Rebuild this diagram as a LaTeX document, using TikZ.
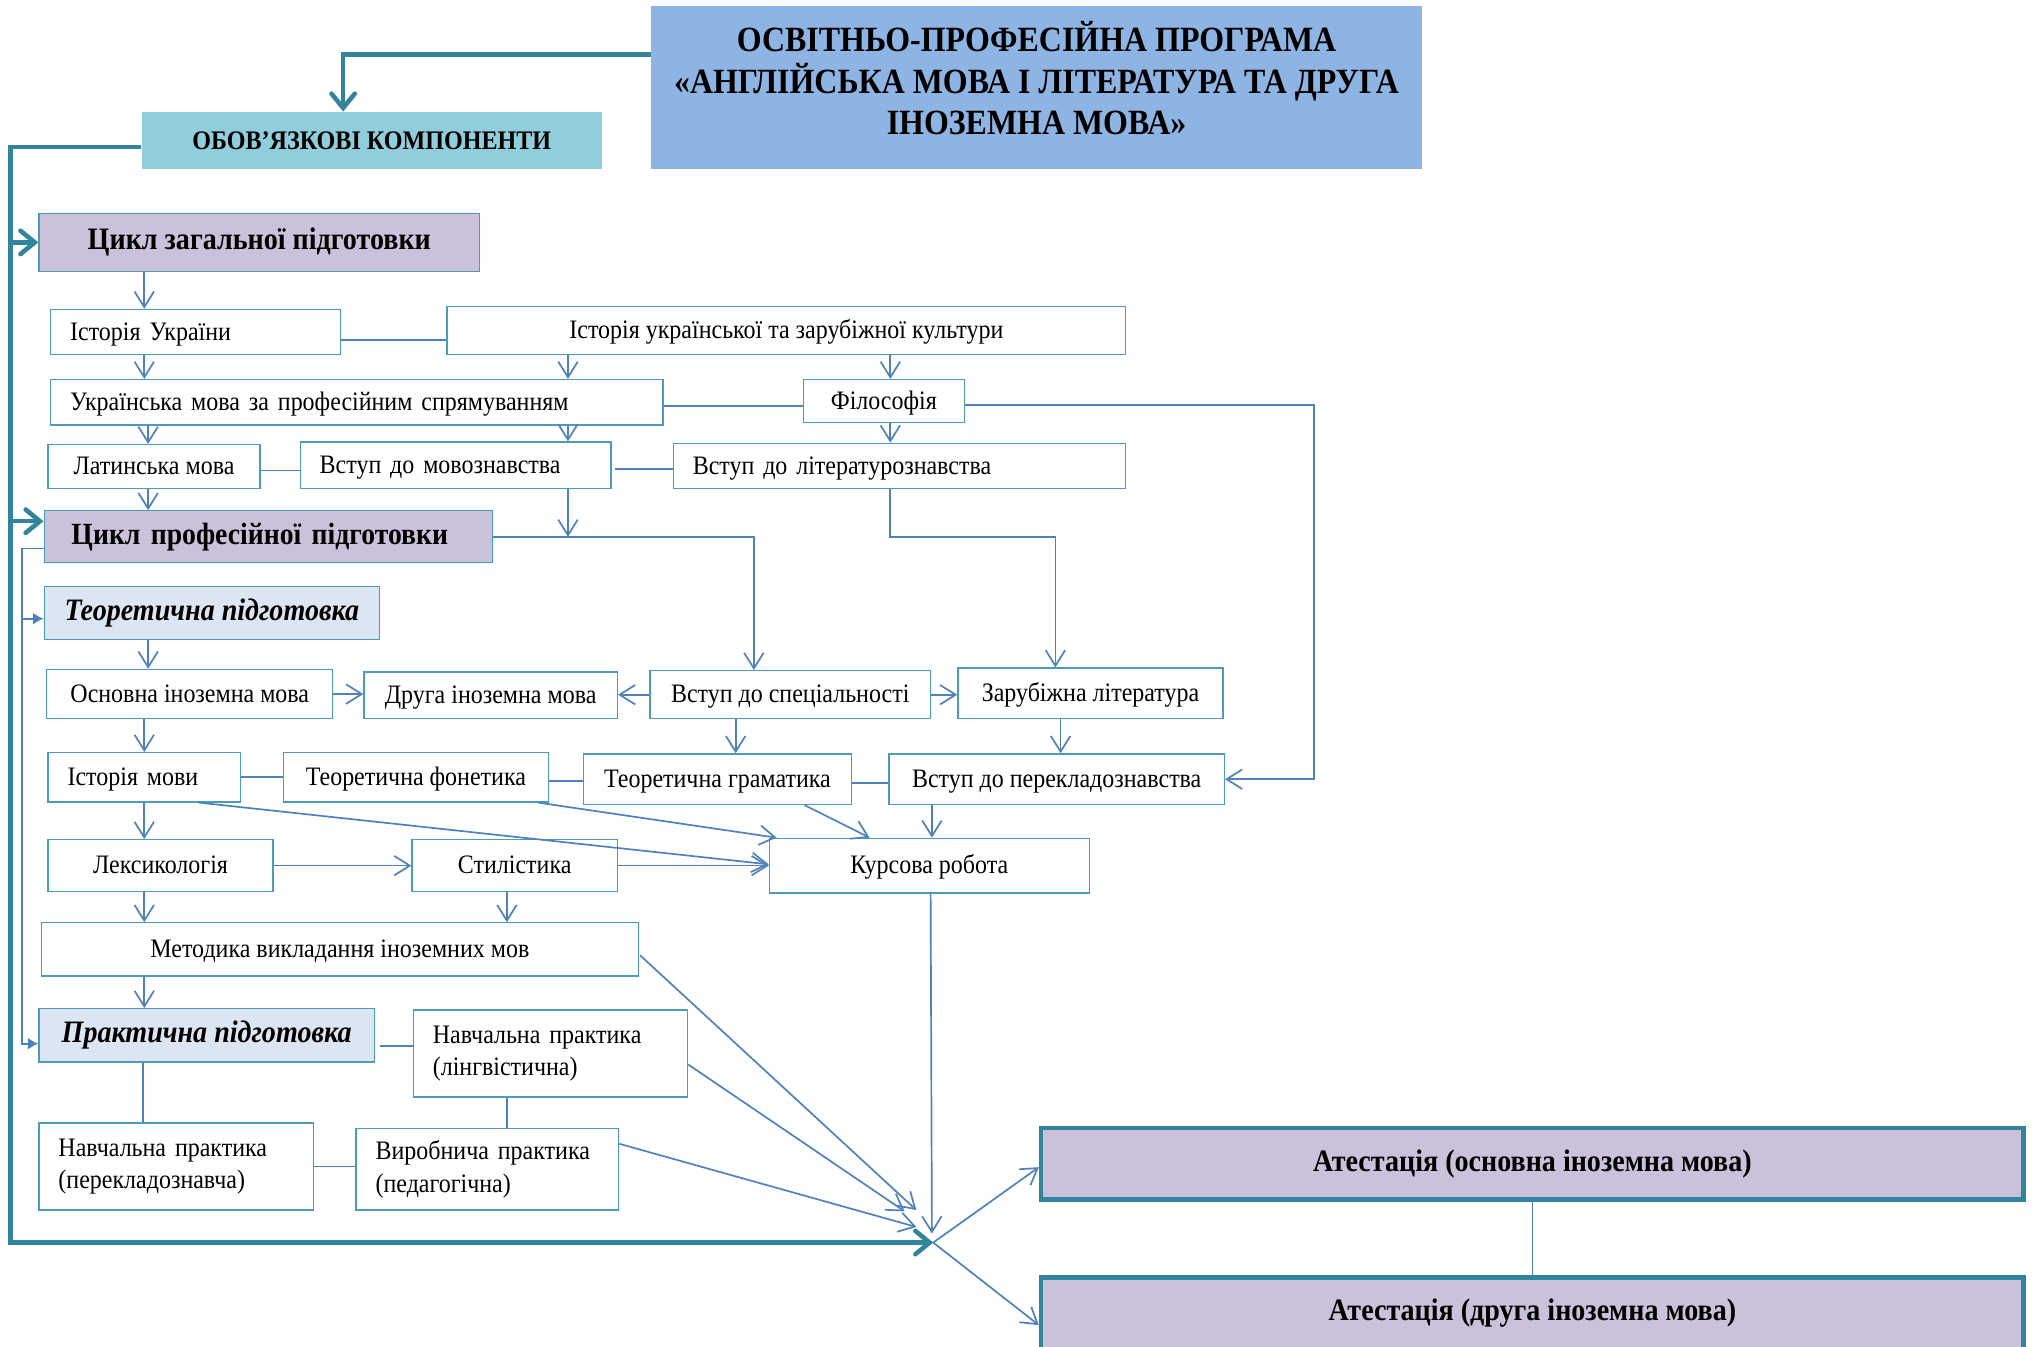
\documentclass[tikz,border=0pt]{standalone}
\usepackage{fontspec}
\setmainfont{Liberation Serif}[FakeStretch=0.9]
\usetikzlibrary{arrows.meta,positioning,calc}
\definecolor{lnc}{RGB}{79,129,189}
\definecolor{tealc}{RGB}{49,132,155}
\definecolor{boxc}{RGB}{75,155,185}
\definecolor{titlec}{RGB}{142,180,227}
\definecolor{obc}{RGB}{146,205,220}
\definecolor{lav}{RGB}{204,193,218}
\definecolor{lbl}{RGB}{220,230,242}
\tikzset{
  box/.style={draw=boxc, line width=1pt, rectangle, inner xsep=15pt, inner ysep=0pt, font=\fontsize{20.5}{25}\selectfont},
  one/.style={box, text height=15.5pt, text depth=3pt},
  lbox/.style={box, align=left},
  hdr/.style={box, fill=lav, font=\fontsize{24}{26}\selectfont\bfseries},
  sub/.style={box, fill=lbl, font=\fontsize{24}{26}\selectfont\bfseries\itshape},
  att/.style={box, fill=lav, draw=tealc, line width=3.5pt, font=\fontsize{24}{26}\selectfont\bfseries},
  ln/.style={draw=lnc, line width=1.3pt},
  arr/.style={ln, -{Straight Barb[length=12pt,width=15pt]}},
  farr/.style={ln, -{Latex[length=8pt,width=9pt]}},
  thk/.style={draw=tealc, line width=3.5pt},
  tarr/.style={thk, -{Straight Barb[length=11pt,width=18pt,line cap=round]}},
}
\begin{document}
\begin{tikzpicture}[x=1pt,y=-1pt]
\useasboundingbox (0,0) rectangle (1568,1036);
\fill[white] (0,0) rectangle (1568,1036);
\clip (0,0) rectangle (1568,1036);

% nodes
\node[fill=titlec, minimum width=593pt, minimum height=125pt, align=center, inner sep=0pt,
      font=\fontsize{27.3}{32}\selectfont\bfseries] (title) at (797.5,67.5)
  {ОСВІТНЬО-ПРОФЕСІЙНА ПРОГРАМА\\«АНГЛІЙСЬКА МОВА І ЛІТЕРАТУРА ТА ДРУГА\\ІНОЗЕМНА МОВА»\\[-17pt]\mbox{}};
\node[fill=obc, minimum width=354pt, minimum height=44pt, inner sep=0pt,
      font=\fontsize{20.6}{22}\selectfont\bfseries] (oblig) at (286,108) {ОБОВ’ЯЗКОВІ КОМПОНЕНТИ};
\node[hdr, minimum width=339pt, minimum height=45pt] (czag) at (199.5,186.5) {Цикл загальної підготовки};
\node[one, align=left, text width=193pt, minimum height=35pt] (istU) at (150.5,255.5) {Історія України};
\node[one, minimum width=522pt, minimum height=37pt] (istK) at (605,254.5) {Історія української та зарубіжної культури};
\node[one, align=left, text width=441pt, minimum height=35pt] (ukrM) at (274.5,309.5) {Українська мова за професійним спрямуванням};
\node[one, minimum width=124pt, minimum height=33pt] (fil) at (680,308.5) {Філософія};
\node[one, minimum width=163pt, minimum height=34pt] (lat) at (118.5,359) {Латинська мова};
\node[one, align=left, text width=209pt, minimum height=36pt] (vmov) at (350.5,358) {Вступ до мовознавства};
\node[one, align=left, text width=318pt, minimum height=35pt] (vlit) at (692,358.5) {Вступ до літературознавства};
\node[hdr, align=left, inner xsep=21pt, text width=303pt, minimum height=40pt,
      font=\fontsize{23.7}{26}\selectfont\bfseries] (cprof) at (206.5,413) {Цикл професійної підготовки};
\node[sub, minimum width=258pt, minimum height=41pt] (teor) at (163,471.5) {Теоретична підготовка};
\node[one, minimum width=220pt, minimum height=38pt] (osn) at (146,534) {Основна іноземна мова};
\node[one, minimum width=195pt, minimum height=36pt] (druga) at (377.5,535) {Друга іноземна мова};
\node[one, minimum width=216pt, minimum height=37pt] (vspec) at (608,534.5) {Вступ до спеціальності};
\node[one, minimum width=204pt, minimum height=39pt] (zarub) at (839,533.5) {Зарубіжна література};
\node[one, align=left, text width=118pt, minimum height=38pt] (istM) at (111,598) {Історія мови};
\node[one, minimum width=204pt, minimum height=38pt] (tfon) at (320,598) {Теоретична фонетика};
\node[one, minimum width=206pt, minimum height=39pt] (tgram) at (552,599.5) {Теоретична граматика};
\node[one, minimum width=258pt, minimum height=39pt] (vper) at (813,599.5) {Вступ до перекладознавства};
\node[one, minimum width=173pt, minimum height=40pt] (leks) at (123.5,666) {Лексикологія};
\node[one, minimum width=158pt, minimum height=40pt] (stil) at (396,666) {Стилістика};
\node[one, minimum width=246pt, minimum height=42pt] (kurs) at (715,666) {Курсова робота};
\node[one, minimum width=459pt, minimum height=41pt] (metod) at (261.5,730.5) {Методика викладання іноземних мов};
\node[sub, minimum width=258pt, minimum height=41pt] (prakt) at (159,796.5) {Практична підготовка};
\node[lbox, text width=181pt, minimum height=67pt] (nling) at (423.5,810.5) {Навчальна практика\\(лінгвістична)};
\node[lbox, text width=181pt, minimum height=67pt] (nper) at (135.5,897.5) {Навчальна практика\\(перекладознавча)};
\node[lbox, text width=172pt, minimum height=63pt] (vyr) at (375,899.5) {Виробнича практика\\(педагогічна)};
\node[att, minimum width=756pt, minimum height=55pt] (at1) at (1179,895.5) {Атестація (основна іноземна мова)};
\node[att, minimum width=756pt, minimum height=55pt] (at2) at (1179,1010.5) {Атестація (друга іноземна мова)};

% helper coordinates
\coordinate (xa) at (111,0);
\coordinate (xa2) at (114,0);
\coordinate (xb) at (437,0);
\coordinate (xc) at (685,0);
\coordinate (xd) at (580,0);
\coordinate (xe) at (812,0);
\coordinate (xf) at (566,0);
\coordinate (xg) at (816,0);
\coordinate (xh) at (717,0);
\coordinate (xi) at (390,0);
\coordinate (xp) at (110,0);
\coordinate (xL) at (8,0);
\coordinate (xM) at (17,0);
\coordinate (xR) at (1011,0);
\coordinate (conv) at (718,956);
\coordinate (t1) at (705,931);
\coordinate (t2) at (696,932);
\coordinate (t3) at (705,944);
\coordinate (t4) at (717,949);
\coordinate (cprofIn) at ([yshift=12pt]cprof.west);

% thick teal connectors
\draw[tarr] ([yshift=25.5pt]title.west) -| ([xshift=-22pt]oblig.north);
\draw[tarr] ([yshift=-5pt]oblig.west) -| (xL |- conv) -- (conv);
\draw[tarr] (xL |- czag.west) -- (czag.west);
\draw[tarr] (xL |- cprofIn) -- (cprofIn);

% general cycle
\draw[arr] (xa |- czag.south) -- (xa |- istU.north);
\draw[ln] ([yshift=-6pt]istU.east) -- ([yshift=-6pt]istU.east -| istK.west);
\draw[arr] (xa |- istU.south) -- (xa |- ukrM.north);
\draw[arr] (xb |- istK.south) -- (xb |- ukrM.north);
\draw[arr] (xc |- istK.south) -- (xc |- fil.north);
\draw[ln] ([yshift=-3pt]ukrM.east) -- ([yshift=-3pt]ukrM.east -| fil.west);
\draw[arr] ([yshift=-3pt]fil.east) -| (xR |- vper.east) -- (vper.east);
\draw[arr] (xc |- fil.south) -- (xc |- vlit.north);
\draw[arr] (xa2 |- ukrM.south) -- (xa2 |- lat.north);
\draw[arr] (xb |- ukrM.south) -- (xb |- vmov.north);
\draw[ln] ([yshift=-3pt]lat.east) -- ([yshift=-3pt]lat.east -| vmov.west);
\draw[ln] ([xshift=3pt,yshift=-3pt]vmov.east) -- ([yshift=-3pt]vmov.east -| vlit.west);
\draw[arr] (xa2 |- lat.south) -- (xa2 |- cprof.north);
\draw[arr] (xb |- vmov.south) -- (xb |- cprof.east);
\draw[arr] (cprof.east) -| (xd |- vspec.north);
\draw[arr] (xc |- vlit.south) -- (xc |- cprof.east) -| (xe |- zarub.north);

% professional cycle
\coordinate (teorIn) at ([yshift=-4.5pt]teor.west);
\coordinate (praktIn) at ([yshift=-6.5pt]prakt.west);
\draw[farr] ([yshift=-9pt]cprof.west) -| (xM |- praktIn) -- (praktIn);
\draw[farr] (xM |- teorIn) -- (teorIn);
\draw[arr] (xa2 |- teor.south) -- (xa2 |- osn.north);
\draw[arr] (osn.east) -- (osn.east -| druga.west);
\draw[arr] (vspec.west) -- (vspec.west -| druga.east);
\draw[arr] (vspec.east) -- (vspec.east -| zarub.west);
\draw[arr] (xa |- osn.south) -- (xa |- istM.north);
\draw[arr] (xf |- vspec.south) -- (xf |- tgram.north);
\draw[arr] (xg |- zarub.south) -- (xg |- vper.north);
\draw[ln] (istM.east) -- (istM.east -| tfon.west);
\draw[ln] ([yshift=-3pt]tfon.east) -- ([yshift=-3pt]tfon.east -| tgram.west);
\draw[ln] ([yshift=-3pt]tgram.east) -- ([yshift=-3pt]tgram.east -| vper.west);
\draw[arr] (xa |- istM.south) -- (xa |- leks.north);
\draw[arr] ([xshift=42pt]istM.south) -- ([yshift=1pt]kurs.west);
\draw[arr] ([xshift=94pt]tfon.south) -- ([xshift=6pt]kurs.north west);
\draw[arr] ([xshift=67pt]tgram.south) -- ([xshift=-46pt]kurs.north);
\draw[arr] (xh |- vper.south) -- (xh |- kurs.north);
\draw[arr] (leks.east) -- (leks.east -| stil.west);
\draw[arr] (stil.east) -- (stil.east -| kurs.west);
\draw[arr] (xa |- leks.south) -- (xa |- metod.north);
\draw[arr] (xi |- stil.south) -- (xi |- metod.north);
\draw[arr] ([xshift=1pt,yshift=-4.5pt]metod.east) -- (t1);
\draw[arr] (xa |- metod.south) -- (xa |- prakt.north);
\draw[ln] ([xshift=4pt,yshift=-8.5pt]prakt.east) -- ([yshift=-8.5pt]prakt.east -| nling.west);
\draw[arr] ([yshift=-8.5pt]nling.east) -- (t2);
\draw[ln] (xp |- prakt.south) -- (xp |- nper.north);
\draw[ln] (nper.east) -- (nper.east -| vyr.west);
\draw[ln] (xi |- nling.south) -- (xi |- vyr.north);
\draw[arr] ([yshift=19.5pt]vyr.east) -- (t3);
\draw[arr] ([xshift=1pt]kurs.south) -- (t4);
\draw[arr] (conv) -- ([yshift=-2.5pt]at1.west);
\draw[arr] (conv) -- ([yshift=-9pt]at2.west);
\draw[draw=lnc, line width=1pt] (at1.south) -- (at2.north);
\end{tikzpicture}
\end{document}
